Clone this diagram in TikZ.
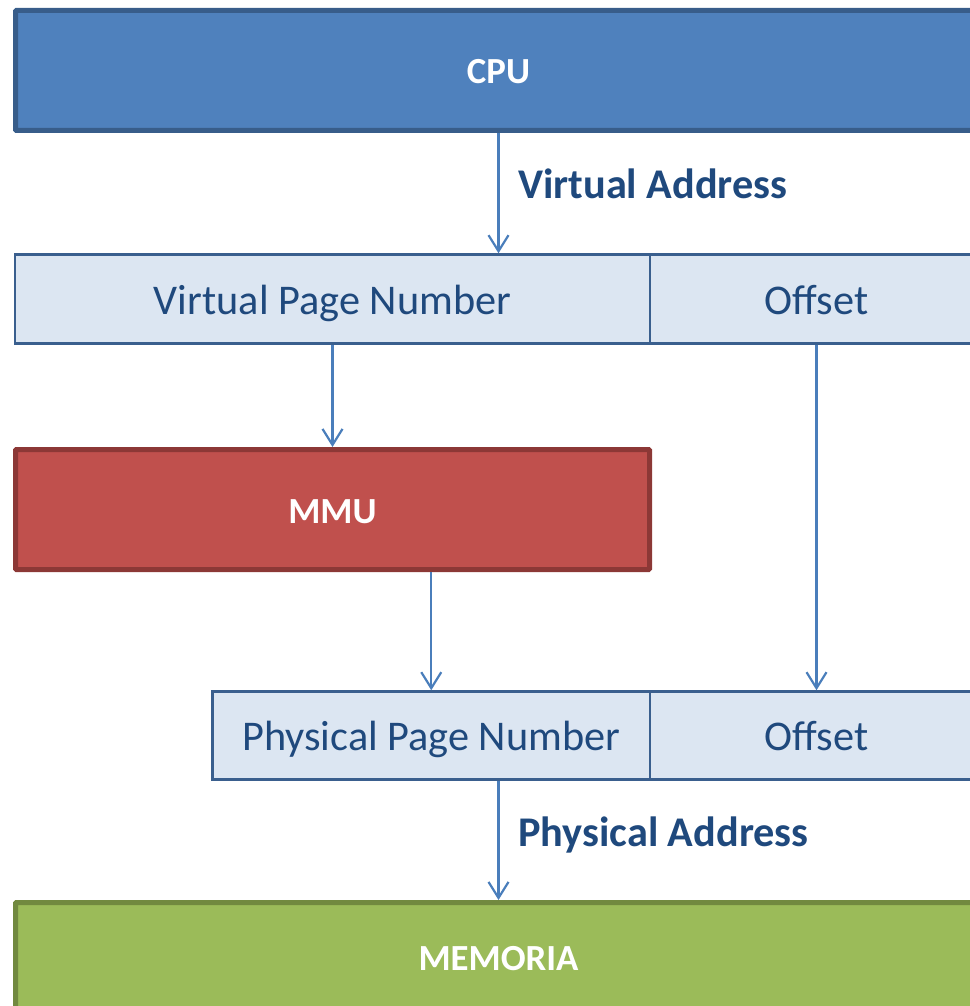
\documentclass[tikz,border=0pt]{standalone}
\usepackage{fontspec}
\setmainfont{Carlito}
\usetikzlibrary{arrows.meta}
\definecolor{cpuFill}{HTML}{4F81BD}
\definecolor{cpuLine}{HTML}{385D8A}
\definecolor{mmuFill}{HTML}{C0504D}
\definecolor{mmuLine}{HTML}{8C3836}
\definecolor{memFill}{HTML}{9BBB59}
\definecolor{memLine}{HTML}{71893F}
\definecolor{cellFill}{HTML}{DCE6F2}
\definecolor{cellLine}{HTML}{3A5F8E}
\definecolor{txtBlue}{HTML}{1F497D}
\definecolor{arrBlue}{HTML}{4A7EBB}
\tikzset{
  unitbox/.style={rectangle,inner sep=0pt,line width=5pt,rounded corners=1pt,
    text=white,font=\fontsize{36.8pt}{40pt}\selectfont\bfseries,
    text height=27pt,text depth=0pt},
  cellbox/.style={rectangle,inner sep=0pt,line width=2.5pt,draw=cellLine,fill=cellFill,
    text=txtBlue,font=\fontsize{42.3pt}{46pt}\selectfont,
    text height=30pt,text depth=0pt},
  flowlabel/.style={inner sep=0pt,anchor=west,text=txtBlue,
    font=\fontsize{42.3pt}{46pt}\selectfont\bfseries,text height=29pt,text depth=0pt},
  flow/.style={draw=arrBlue,line width=2.2pt,-{Straight Barb[length=16pt,width=20pt]}}
}
\begin{document}
\begin{tikzpicture}[x=1pt,y=-1pt]
\useasboundingbox (0,0) rectangle (969,1006);
\node[unitbox,draw=cpuLine,fill=cpuFill,minimum width=966pt,minimum height=120pt] (cpu) at (498.5,70.5) {CPU};
\node[cellbox,minimum width=635pt,minimum height=89pt] (vpn) at (332.5,299) {Virtual Page Number};
\node[cellbox,minimum width=333pt,minimum height=89pt] (off1) at (816.5,299) {Offset};
\node[unitbox,draw=mmuLine,fill=mmuFill,minimum width=634pt,minimum height=120pt] (mmu) at (332.5,509.5) {MMU};
\node[cellbox,minimum width=437.5pt,minimum height=88pt] (ppn) at (431.25,735.5) {Physical Page Number};
\node[cellbox,minimum width=333pt,minimum height=88pt] (off2) at (816.5,735.5) {Offset};
\node[unitbox,draw=memLine,fill=memFill,minimum width=966pt,minimum height=109pt] (mem) at (498.5,957) {MEMORIA};
\node[flowlabel] (va) at (518,183.5) {Virtual Address};
\node[flowlabel] (pa) at (518,832) {Physical Address};
\draw[flow] (cpu.south) -- (cpu.south |- vpn.north);
\draw[flow] (vpn.south) -- (mmu.north);
\draw[flow] (off1.south) -- (off2.north);
\draw[flow] (ppn.north |- mmu.south) -- (ppn.north);
\draw[flow] (mem.north |- ppn.south) -- (mem.north);
\end{tikzpicture}
\end{document}
